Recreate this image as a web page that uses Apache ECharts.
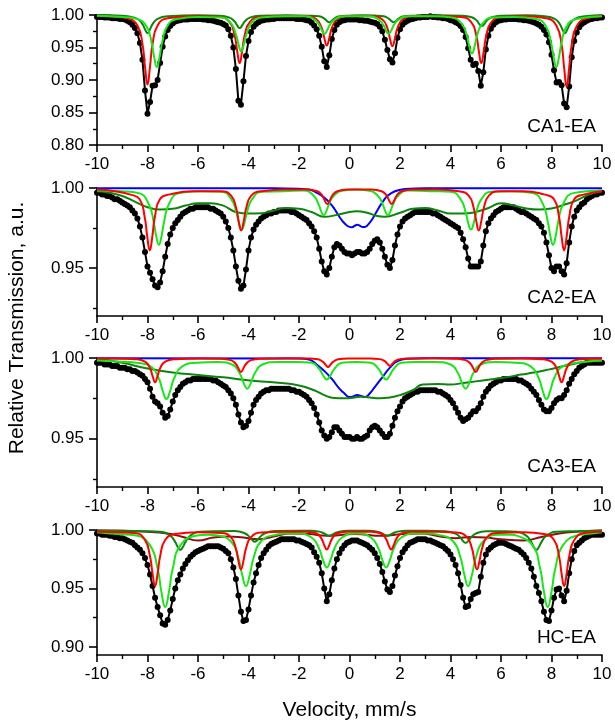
<!DOCTYPE html>
<html><head><meta charset="utf-8">
<script src="https://cdn.jsdelivr.net/npm/echarts@6/dist/echarts.min.js"></script>
<style>html,body{margin:0;padding:0;background:#fff}#c{width:615px;height:726px}</style>
</head><body><div id="c"></div>
<script>
// Velocity channels, mm/s
const velocity = [
-10,-9.9,-9.8,-9.7,-9.6,-9.5,-9.4,-9.3,-9.2,-9.1,
-9,-8.9,-8.8,-8.7,-8.6,-8.5,-8.4,-8.3,-8.2,-8.1,
-8,-7.9,-7.8,-7.7,-7.6,-7.5,-7.4,-7.3,-7.2,-7.1,
-7,-6.9,-6.8,-6.7,-6.6,-6.5,-6.4,-6.3,-6.2,-6.1,
-6,-5.9,-5.8,-5.7,-5.6,-5.5,-5.4,-5.3,-5.2,-5.1,
-5,-4.9,-4.8,-4.7,-4.6,-4.5,-4.4,-4.3,-4.2,-4.1,
-4,-3.9,-3.8,-3.7,-3.6,-3.5,-3.4,-3.3,-3.2,-3.1,
-3,-2.9,-2.8,-2.7,-2.6,-2.5,-2.4,-2.3,-2.2,-2.1,
-2,-1.9,-1.8,-1.7,-1.6,-1.5,-1.4,-1.3,-1.2,-1.1,
-1,-0.9,-0.8,-0.7,-0.6,-0.5,-0.4,-0.3,-0.2,-0.1,
0,0.1,0.2,0.3,0.4,0.5,0.6,0.7,0.8,0.9,
1,1.1,1.2,1.3,1.4,1.5,1.6,1.7,1.8,1.9,
2,2.1,2.2,2.3,2.4,2.5,2.6,2.7,2.8,2.9,
3,3.1,3.2,3.3,3.4,3.5,3.6,3.7,3.8,3.9,
4,4.1,4.2,4.3,4.4,4.5,4.6,4.7,4.8,4.9,
5,5.1,5.2,5.3,5.4,5.5,5.6,5.7,5.8,5.9,
6,6.1,6.2,6.3,6.4,6.5,6.6,6.7,6.8,6.9,
7,7.1,7.2,7.3,7.4,7.5,7.6,7.7,7.8,7.9,
8,8.1,8.2,8.3,8.4,8.5,8.6,8.7,8.8,8.9,
9,9.1,9.2,9.3,9.4,9.5,9.6,9.7,9.8,9.9,
10];

// Experimental spectra (relative transmission)
const ca1Exp = [
.997,.997,.997,.996,.996,.996,.995,.995,.995,.994,
.994,.993,.991,.989,.985,.980,.972,.957,.931,.884,
.848,.866,.891,.892,.900,.926,.951,.967,.977,.983,
.987,.990,.991,.992,.993,.993,.993,.994,.994,.994,
.994,.994,.993,.993,.992,.992,.991,.990,.989,.988,
.986,.984,.978,.968,.950,.917,.868,.862,.898,.937,
.960,.974,.982,.986,.989,.991,.992,.993,.993,.994,
.994,.995,.995,.995,.995,.995,.995,.995,.995,.994,
.994,.994,.993,.992,.991,.988,.984,.978,.968,.951,
.929,.920,.938,.963,.977,.985,.989,.991,.992,.993,
.993,.993,.993,.993,.992,.992,.991,.991,.990,.989,
.988,.986,.982,.975,.962,.946,.932,.927,.941,.965,
.978,.985,.989,.991,.993,.994,.995,.996,.996,.997,
.997,.997,.998,.997,.997,.996,.996,.995,.995,.994,
.992,.991,.989,.987,.983,.977,.966,.949,.931,.923,
.925,.914,.891,.912,.947,.968,.979,.985,.989,.991,
.992,.993,.993,.994,.994,.994,.994,.993,.993,.992,
.992,.991,.990,.989,.987,.985,.982,.977,.970,.958,
.939,.915,.896,.897,.892,.864,.858,.890,.935,.960,
.973,.981,.986,.989,.991,.993,.994,.995,.995,.996,
.996];
const ca2Exp = [
.997,.997,.996,.996,.995,.995,.994,.993,.993,.992,
.991,.990,.989,.988,.986,.984,.981,.976,.969,.960,
.951,.947,.943,.939,.938,.941,.948,.957,.965,.971,
.975,.978,.980,.982,.984,.985,.986,.987,.987,.988,
.988,.988,.988,.988,.988,.987,.987,.986,.985,.984,
.982,.979,.975,.969,.961,.951,.942,.937,.939,.949,
.961,.969,.974,.977,.979,.981,.982,.983,.984,.984,
.985,.985,.986,.986,.986,.986,.986,.985,.985,.984,
.983,.982,.981,.980,.978,.976,.973,.969,.962,.954,
.948,.946,.950,.957,.963,.965,.964,.962,.960,.959,
.959,.958,.959,.960,.960,.959,.959,.960,.962,.965,
.967,.968,.966,.962,.957,.952,.950,.955,.964,.971,
.976,.979,.981,.982,.983,.984,.985,.985,.985,.985,
.985,.985,.985,.984,.984,.983,.982,.981,.980,.979,
.978,.977,.976,.975,.972,.968,.963,.956,.951,.951,
.951,.951,.954,.964,.973,.978,.981,.983,.985,.986,
.987,.988,.988,.988,.988,.988,.987,.986,.985,.985,
.984,.983,.982,.981,.980,.978,.976,.972,.966,.958,
.950,.948,.951,.951,.948,.946,.953,.966,.976,.982,
.986,.988,.990,.991,.993,.994,.995,.996,.996,.997,
.997];
const ca3Exp = [
.997,.997,.997,.996,.996,.996,.995,.995,.995,.994,
.994,.994,.993,.993,.992,.992,.991,.990,.989,.987,
.985,.981,.976,.973,.972,.970,.966,.963,.964,.968,
.973,.977,.980,.982,.984,.985,.986,.986,.987,.987,
.987,.987,.987,.987,.987,.987,.986,.986,.985,.984,
.983,.982,.980,.978,.975,.971,.965,.960,.957,.958,
.961,.966,.971,.974,.976,.978,.979,.980,.980,.981,
.981,.981,.981,.981,.981,.981,.981,.980,.980,.979,
.979,.978,.977,.976,.974,.972,.969,.965,.960,.955,
.952,.950,.951,.954,.957,.957,.955,.953,.951,.951,
.951,.950,.950,.951,.950,.950,.951,.952,.955,.957,
.958,.957,.955,.953,.951,.951,.953,.958,.963,.967,
.970,.973,.975,.976,.977,.978,.979,.979,.980,.980,
.980,.980,.980,.980,.980,.979,.979,.978,.977,.976,
.974,.972,.969,.966,.963,.961,.962,.963,.965,.967,
.967,.969,.972,.976,.979,.981,.983,.984,.985,.986,
.986,.987,.987,.987,.987,.987,.987,.986,.986,.985,
.984,.983,.981,.979,.977,.974,.971,.968,.967,.967,
.969,.972,.974,.975,.975,.977,.980,.984,.987,.990,
.992,.994,.995,.996,.997,.997,.997,.997,.997,.997,
.997];
const hcExp = [
.997,.997,.996,.996,.996,.995,.995,.994,.994,.993,
.993,.992,.991,.990,.989,.987,.985,.983,.980,.976,
.970,.962,.952,.942,.934,.927,.920,.919,.923,.931,
.941,.950,.957,.962,.967,.971,.974,.977,.979,.981,
.982,.983,.984,.985,.986,.986,.986,.986,.986,.985,
.984,.982,.980,.975,.968,.958,.944,.930,.922,.923,
.932,.944,.955,.963,.970,.976,.980,.983,.986,.988,
.989,.990,.991,.992,.992,.992,.992,.992,.992,.991,
.991,.990,.989,.988,.987,.985,.981,.977,.972,.963,
.950,.939,.945,.957,.967,.975,.980,.984,.987,.989,
.990,.991,.991,.991,.990,.989,.988,.987,.985,.983,
.980,.976,.971,.964,.956,.949,.947,.952,.961,.969,
.976,.981,.984,.987,.989,.990,.991,.992,.992,.992,
.992,.991,.991,.990,.989,.988,.987,.986,.984,.982,
.979,.975,.970,.963,.953,.942,.934,.935,.941,.945,
.946,.947,.960,.972,.979,.983,.985,.987,.988,.989,
.989,.989,.988,.987,.986,.985,.984,.983,.981,.979,
.976,.972,.967,.960,.952,.946,.939,.930,.923,.922,
.931,.942,.949,.950,.944,.939,.948,.963,.975,.982,
.987,.989,.991,.993,.994,.995,.996,.996,.996,.996,
.996];

// Fitted sub-spectra [velocity, transmission]
const ca1Red = [[-10,0.999],[-9.2,0.997],[-8.8,0.995],[-8.4,0.984],[-8.2,0.955],[-8.1,0.921],[-8.0,0.893],[-7.9,0.921],[-7.8,0.955],[-7.6,0.984],[-7.2,0.995],[-6.2,0.998],[-5.15,0.997],[-4.75,0.989],[-4.55,0.969],[-4.45,0.945],[-4.35,0.926],[-4.25,0.945],[-4.15,0.969],[-3.95,0.989],[-3.55,0.997],[-2.6,0.998],[-1.7,0.998],[-1.3,0.993],[-1.1,0.98],[-1.0,0.965],[-0.9,0.953],[-0.8,0.965],[-0.7,0.98],[-0.5,0.993],[-0.1,0.998],[0.4,0.998],[0.9,0.998],[1.3,0.993],[1.5,0.98],[1.6,0.964],[1.7,0.952],[1.8,0.964],[1.9,0.98],[2.1,0.993],[2.5,0.998],[3.5,0.998],[4.42,0.997],[4.82,0.989],[5.02,0.969],[5.12,0.945],[5.22,0.926],[5.32,0.945],[5.42,0.969],[5.62,0.989],[6.02,0.997],[6.9,0.998],[7.8,0.995],[8.2,0.983],[8.4,0.954],[8.5,0.919],[8.6,0.890],[8.7,0.919],[8.8,0.954],[9.0,0.983],[9.4,0.995],[10,0.998]];
const ca1Green = [[-10,0.999],[-9,0.997],[-8.43,0.994],[-8.03,0.982],[-7.83,0.956],[-7.73,0.934],[-7.63,0.920],[-7.53,0.934],[-7.43,0.956],[-7.23,0.982],[-6.83,0.994],[-6,0.997],[-5.09,0.996],[-4.69,0.987],[-4.49,0.969],[-4.39,0.954],[-4.29,0.944],[-4.19,0.954],[-4.09,0.969],[-3.89,0.987],[-3.49,0.996],[-2.5,0.998],[-1.79,0.998],[-1.39,0.993],[-1.19,0.984],[-1.09,0.976],[-0.99,0.971],[-0.89,0.976],[-0.79,0.984],[-0.59,0.993],[-0.19,0.998],[0.3,0.998],[0.75,0.998],[1.15,0.993],[1.35,0.984],[1.45,0.976],[1.55,0.971],[1.65,0.976],[1.75,0.984],[1.95,0.993],[2.35,0.998],[3.3,0.998],[4.05,0.996],[4.45,0.986],[4.65,0.968],[4.75,0.951],[4.85,0.941],[4.95,0.951],[5.05,0.968],[5.25,0.986],[5.65,0.996],[6.5,0.997],[7.39,0.994],[7.79,0.982],[7.99,0.956],[8.09,0.934],[8.19,0.920],[8.29,0.934],[8.39,0.956],[8.59,0.982],[8.99,0.994],[10,0.998]];
const ca1DkGreen = [[-10,1.0],[-9,0.999],[-8.8,0.998],[-8.4,0.994],[-8.2,0.986],[-8.1,0.978],[-8.0,0.972],[-7.9,0.978],[-7.8,0.986],[-7.6,0.994],[-7.2,0.998],[-6,0.9995],[-5.15,0.999],[-4.75,0.996],[-4.55,0.99],[-4.45,0.984],[-4.35,0.98],[-4.25,0.984],[-4.15,0.99],[-3.95,0.996],[-3.55,0.999],[-2.5,0.9995],[-1.6,0.999],[-1.2,0.998],[-1.0,0.9945],[-0.9,0.991],[-0.8,0.989],[-0.7,0.991],[-0.6,0.9945],[-0.4,0.998],[0,0.999],[0.5,0.9995],[1.05,0.999],[1.35,0.998],[1.55,0.9945],[1.65,0.991],[1.75,0.989],[1.85,0.991],[1.95,0.9945],[2.15,0.998],[2.55,0.999],[3.5,0.9995],[4.44,0.999],[4.84,0.9966],[5.04,0.9915],[5.14,0.986],[5.24,0.983],[5.34,0.986],[5.44,0.9915],[5.64,0.9966],[6.04,0.999],[7,0.9995],[7.73,0.998],[8.13,0.994],[8.33,0.986],[8.43,0.978],[8.53,0.972],[8.63,0.978],[8.73,0.986],[8.93,0.994],[9.33,0.998],[10,0.9995]];

const ca2Red = [[-10,0.999],[-9.3,0.998],[-8.71,0.996],[-8.31,0.993],[-8.11,0.9817],[-8.01,0.9696],[-7.91,0.961],[-7.81,0.9696],[-7.71,0.9817],[-7.51,0.993],[-7.11,0.996],[-6.2,0.998],[-5.09,0.998],[-4.69,0.9952],[-4.49,0.9875],[-4.39,0.9793],[-4.29,0.9735],[-4.19,0.9793],[-4.09,0.9875],[-3.89,0.9952],[-3.49,0.998],[-2.5,0.999],[-1.68,0.999],[-1.28,0.998],[-1.08,0.9953],[-0.98,0.9922],[-0.88,0.990],[-0.78,0.9922],[-0.68,0.9953],[-0.48,0.998],[-0.08,0.999],[0.87,0.999],[1.27,0.998],[1.47,0.9953],[1.57,0.9922],[1.67,0.990],[1.77,0.9922],[1.87,0.9953],[2.07,0.998],[2.47,0.999],[3.5,0.999],[4.32,0.998],[4.72,0.9952],[4.92,0.9875],[5.02,0.9793],[5.12,0.9735],[5.22,0.9793],[5.32,0.9875],[5.52,0.9952],[5.92,0.998],[6.9,0.998],[7.7,0.996],[8.1,0.993],[8.3,0.9817],[8.4,0.9696],[8.5,0.961],[8.6,0.9696],[8.7,0.9817],[8.9,0.993],[9.3,0.996],[10,0.998]];
const ca2Green = [[-10,0.9985],[-9.05,0.998],[-8.35,0.9968],[-7.95,0.990],[-7.75,0.9783],[-7.65,0.9695],[-7.55,0.9645],[-7.45,0.9695],[-7.35,0.9783],[-7.15,0.990],[-6.75,0.9968],[-5.9,0.998],[-5.07,0.9977],[-4.67,0.9927],[-4.47,0.9841],[-4.37,0.9776],[-4.27,0.974],[-4.17,0.9776],[-4.07,0.9841],[-3.87,0.9927],[-3.47,0.9977],[-2.6,0.998],[-1.82,0.9985],[-1.42,0.9952],[-1.22,0.9896],[-1.12,0.9854],[-1.02,0.983],[-0.92,0.9854],[-0.82,0.9896],[-0.62,0.9952],[-0.22,0.9985],[0.25,0.999],[0.72,0.9985],[1.12,0.9952],[1.32,0.9896],[1.42,0.9854],[1.52,0.983],[1.62,0.9854],[1.72,0.9896],[1.92,0.9952],[2.32,0.9985],[3.2,0.998],[4.01,0.9977],[4.41,0.9927],[4.61,0.9841],[4.71,0.9776],[4.81,0.974],[4.91,0.9776],[5.01,0.9841],[5.21,0.9927],[5.61,0.9977],[6.4,0.998],[7.26,0.9968],[7.66,0.990],[7.86,0.9783],[7.96,0.9695],[8.06,0.9645],[8.16,0.9695],[8.26,0.9783],[8.46,0.990],[8.86,0.9968],[10,0.9985]];
const ca2DkGreen = [[-10,0.998],[-9.5,0.997],[-9,0.995],[-8.5,0.9915],[-8,0.988],[-7.5,0.9865],[-7,0.987],[-6.5,0.989],[-6,0.9905],[-5.5,0.9905],[-5,0.989],[-4.5,0.985],[-4,0.984],[-3.5,0.9842],[-3,0.986],[-2.5,0.9875],[-2,0.987],[-1.5,0.985],[-1,0.982],[-0.5,0.9832],[0,0.985],[0.3,0.9854],[0.7,0.9845],[1.1,0.9825],[1.4,0.982],[2,0.9845],[2.5,0.987],[3,0.9875],[3.5,0.986],[4,0.984],[4.5,0.984],[5,0.985],[5.5,0.9875],[6,0.9905],[6.5,0.989],[7,0.9872],[7.5,0.9865],[8,0.9872],[8.5,0.9895],[9,0.9923],[9.5,0.996],[10,0.998]];
const ca2Blue = [[-10,0.9998],[-3,0.9998],[-2,0.9995],[-1.6,0.999],[-1.3,0.997],[-1,0.994],[-0.8,0.991],[-0.6,0.987],[-0.4,0.982],[-0.2,0.978],[0,0.9757],[0.1,0.9755],[0.2,0.9763],[0.3,0.977],[0.4,0.9765],[0.5,0.9757],[0.6,0.9757],[0.7,0.9765],[0.9,0.9805],[1.1,0.986],[1.3,0.991],[1.5,0.995],[1.8,0.998],[2.2,0.9993],[3,0.9998],[10,0.9998]];

const ca3Red = [[-10,0.9998],[-9,0.9996],[-8.5,0.9993],[-8.1,0.9978],[-7.9,0.9937],[-7.8,0.9889],[-7.7,0.985],[-7.6,0.9889],[-7.5,0.9937],[-7.3,0.9978],[-6.9,0.9993],[-5.9,0.9997],[-5.1,0.9996],[-4.7,0.9987],[-4.5,0.9963],[-4.4,0.9936],[-4.3,0.9913],[-4.2,0.9936],[-4.1,0.9963],[-3.9,0.9987],[-3.5,0.9996],[-2.5,0.9998],[-1.65,0.9997],[-1.25,0.9992],[-1.05,0.9976],[-0.95,0.9959],[-0.85,0.9944],[-0.75,0.9959],[-0.65,0.9976],[-0.45,0.9992],[-0.05,0.9997],[0.4,0.9997],[0.8,0.9997],[1.2,0.9993],[1.4,0.998],[1.5,0.9964],[1.6,0.9952],[1.7,0.9964],[1.8,0.998],[2.0,0.9993],[2.4,0.9997],[3.4,0.9998],[4.2,0.9996],[4.6,0.9987],[4.8,0.9963],[4.9,0.9936],[5.0,0.9913],[5.1,0.9936],[5.2,0.9963],[5.4,0.9987],[5.8,0.9996],[6.8,0.9997],[7.6,0.9993],[8.0,0.9978],[8.2,0.9937],[8.3,0.9889],[8.4,0.985],[8.5,0.9889],[8.6,0.9937],[8.8,0.9978],[9.2,0.9993],[10,0.9997]];
const ca3Green = [[-10,0.9985],[-9.2,0.9978],[-8.45,0.997],[-7.85,0.9945],[-7.55,0.9873],[-7.4,0.9797],[-7.25,0.9746],[-7.1,0.9797],[-6.95,0.9873],[-6.65,0.9945],[-6.05,0.997],[-5.25,0.9975],[-4.65,0.996],[-4.35,0.9905],[-4.2,0.9848],[-4.05,0.981],[-3.9,0.9848],[-3.75,0.9905],[-3.45,0.996],[-2.85,0.9975],[-2.1,0.9975],[-1.5,0.997],[-1.2,0.9933],[-1.05,0.9893],[-0.9,0.9866],[-0.75,0.9893],[-0.6,0.9933],[-0.3,0.997],[0.25,0.9975],[0.85,0.997],[1.15,0.9933],[1.3,0.9893],[1.45,0.9866],[1.6,0.9893],[1.75,0.9933],[2.05,0.997],[2.65,0.9975],[3.4,0.9975],[4.0,0.996],[4.3,0.9905],[4.45,0.9848],[4.6,0.981],[4.75,0.9848],[4.9,0.9905],[5.2,0.996],[5.8,0.9975],[6.6,0.997],[7.2,0.9945],[7.5,0.9873],[7.65,0.9797],[7.8,0.9746],[7.95,0.9797],[8.1,0.9873],[8.4,0.9945],[9.0,0.997],[10,0.9985]];
const ca3DkGreen = [[-10,0.9995],[-9,0.997],[-8,0.9935],[-7,0.991],[-6,0.9895],[-5,0.988],[-4.2,0.9865],[-3.5,0.9855],[-2.7,0.9845],[-2,0.983],[-1.4,0.980],[-1,0.977],[-0.6,0.9752],[-0.2,0.975],[0.2,0.9755],[0.45,0.976],[0.8,0.9755],[1.2,0.975],[1.6,0.9755],[2,0.977],[2.5,0.980],[2.9,0.9835],[3.5,0.9838],[4,0.9835],[4.5,0.9845],[5,0.9855],[5.55,0.9866],[6.2,0.988],[6.8,0.9897],[7.3,0.991],[7.87,0.9928],[8.5,0.995],[9.1,0.997],[9.6,0.998],[10,0.9985]];
const ca3Blue = [[-10,0.9998],[-2,0.9997],[-1.6,0.999],[-1.3,0.996],[-1,0.992],[-0.7,0.987],[-0.4,0.981],[-0.2,0.978],[0,0.9758],[0.15,0.9762],[0.3,0.977],[0.45,0.9765],[0.6,0.9758],[0.8,0.978],[1.0,0.982],[1.3,0.988],[1.6,0.994],[1.9,0.998],[2.3,0.9995],[3,0.9998],[10,0.9998]];

const hcRed = [[-10,0.9985],[-9.2,0.998],[-8.5,0.9975],[-8.1,0.9914],[-7.9,0.9774],[-7.8,0.9626],[-7.7,0.952],[-7.6,0.9626],[-7.5,0.9774],[-7.3,0.9914],[-6.9,0.9965],[-6,0.998],[-5.1,0.9975],[-4.7,0.9939],[-4.5,0.9842],[-4.4,0.9737],[-4.3,0.9663],[-4.2,0.9737],[-4.1,0.9842],[-3.9,0.9939],[-3.5,0.9978],[-2.5,0.9985],[-1.7,0.9985],[-1.3,0.997],[-1.1,0.9922],[-1.0,0.987],[-0.9,0.9834],[-0.8,0.987],[-0.7,0.9922],[-0.5,0.997],[-0.1,0.9985],[0.4,0.9985],[0.85,0.9985],[1.25,0.997],[1.45,0.9922],[1.55,0.987],[1.65,0.9834],[1.75,0.987],[1.85,0.9922],[2.05,0.997],[2.45,0.9985],[3.4,0.9985],[4.25,0.9978],[4.65,0.9939],[4.85,0.9842],[4.95,0.9737],[5.05,0.9663],[5.15,0.9737],[5.25,0.9842],[5.45,0.9939],[5.85,0.9975],[6.9,0.998],[7.7,0.9965],[8.1,0.9914],[8.3,0.9774],[8.4,0.9626],[8.5,0.952],[8.6,0.9626],[8.7,0.9774],[8.9,0.9914],[9.3,0.9975],[10,0.9985]];
const hcGreen = [[-10,0.998],[-9.2,0.9965],[-8.5,0.9955],[-7.9,0.9868],[-7.6,0.967],[-7.45,0.9472],[-7.3,0.934],[-7.15,0.9472],[-7.0,0.967],[-6.7,0.9868],[-6.1,0.995],[-5.6,0.996],[-5.3,0.9955],[-4.7,0.9904],[-4.4,0.976],[-4.25,0.9616],[-4.1,0.952],[-3.95,0.9616],[-3.8,0.976],[-3.5,0.9904],[-2.9,0.996],[-2.5,0.997],[-2.1,0.997],[-1.5,0.9936],[-1.2,0.984],[-1.05,0.9744],[-0.9,0.968],[-0.75,0.9744],[-0.6,0.984],[-0.3,0.9936],[0.28,0.997],[0.85,0.9936],[1.15,0.984],[1.3,0.9744],[1.45,0.968],[1.6,0.9744],[1.75,0.984],[2.05,0.9936],[2.65,0.997],[3.1,0.997],[3.5,0.996],[4.1,0.9904],[4.4,0.976],[4.55,0.9616],[4.7,0.952],[4.85,0.9616],[5.0,0.976],[5.3,0.9904],[5.9,0.996],[6.4,0.996],[6.65,0.995],[7.25,0.9868],[7.55,0.967],[7.7,0.9472],[7.85,0.934],[8.0,0.9472],[8.15,0.967],[8.45,0.9868],[9.05,0.9955],[9.6,0.997],[10,0.998]];
const hcDkGreen = [[-10,0.9995],[-8,0.999],[-7.5,0.9985],[-7.1,0.9952],[-6.9,0.9896],[-6.8,0.9854],[-6.7,0.983],[-6.6,0.9854],[-6.5,0.9896],[-6.3,0.9952],[-5.9,0.9985],[-5.2,0.999],[-4.55,0.9991],[-4.15,0.9972],[-3.95,0.9939],[-3.85,0.9914],[-3.75,0.990],[-3.65,0.9914],[-3.55,0.9939],[-3.35,0.9972],[-2.95,0.9991],[-2,0.9994],[-1.6,0.9993],[-1.2,0.9986],[-1.0,0.997],[-0.9,0.9957],[-0.8,0.995],[-0.7,0.9957],[-0.6,0.997],[-0.4,0.9986],[0,0.9993],[0.35,0.9994],[0.7,0.9993],[1.1,0.9986],[1.3,0.997],[1.4,0.9957],[1.5,0.995],[1.6,0.9957],[1.7,0.997],[1.9,0.9986],[2.3,0.9993],[3,0.9994],[3.8,0.999],[4.2,0.9969],[4.4,0.9933],[4.5,0.9905],[4.6,0.989],[4.7,0.9905],[4.8,0.9933],[5.0,0.9969],[5.4,0.999],[6.2,0.999],[6.6,0.9985],[7.0,0.9952],[7.2,0.9896],[7.3,0.9854],[7.4,0.983],[7.5,0.9854],[7.6,0.9896],[7.8,0.9952],[8.2,0.9985],[9,0.999],[10,0.9995]];
const hcBrown = [[-10,0.9995],[-8,0.9985],[-7.2,0.997],[-6.6,0.994],[-6.0,0.991],[-5.4,0.9935],[-4.8,0.9945],[-4.2,0.9935],[-3.6,0.992],[-3.0,0.9945],[-2.3,0.997],[-1.6,0.9965],[-0.9,0.995],[0.2,0.9965],[1.3,0.995],[2.1,0.9965],[2.8,0.997],[3.6,0.9945],[4.2,0.993],[4.8,0.994],[5.4,0.9935],[6.0,0.992],[6.9,0.991],[7.6,0.994],[8.3,0.997],[9,0.9985],[10,0.9995]];

const panelNames = ['CA1-EA', 'CA2-EA', 'CA3-EA', 'HC-EA'];
const yMajorTicks = [[0.80, 0.85, 0.90, 0.95, 1.00], [0.95, 1.00], [0.95, 1.00], [0.90, 0.95, 1.00]];
const yMinorTicks = [[0.825, 0.875, 0.925, 0.975], [0.925, 0.975], [0.925, 0.975], [0.925, 0.975]];
const yMin = [0.80, 0.92, 0.92, 0.893];
const yMax = [1.0, 1.0, 1.0, 1.0];

const C = {red: '#ff0000', green: '#19e619', dkgreen: '#0d850d', blue: '#0000ff', brown: '#8b1010'};
const panels = [
  {exp: ca1Exp, fits: [[ca1DkGreen, C.dkgreen], [ca1Red, C.red], [ca1Green, C.green]]},
  {exp: ca2Exp, fits: [[ca2Blue, C.blue], [ca2DkGreen, C.dkgreen], [ca2Green, C.green], [ca2Red, C.red]]},
  {exp: ca3Exp, fits: [[ca3Blue, C.blue], [ca3DkGreen, C.dkgreen], [ca3Green, C.green], [ca3Red, C.red]]},
  {exp: hcExp, fits: [[hcBrown, C.brown], [hcDkGreen, C.dkgreen], [hcGreen, C.green], [hcRed, C.red]]}
];

const FONT = '"Liberation Sans", Arial, Helvetica, sans-serif';
const gridBoxes = [
  {top: 15, height: 130},
  {top: 188, height: 128},
  {top: 358, height: 129},
  {top: 530, height: 125}
];

const chart = echarts.init(document.getElementById('c'), null, {renderer: 'canvas'});
const grid = [], xAxis = [], yAxis = [], series = [];
gridBoxes.forEach((g, i) => {
  grid.push({left: 97, right: 13, top: g.top, height: g.height, containLabel: false});
  xAxis.push({
    type: 'value', gridIndex: i, min: -10, max: 10, interval: 2, position: 'bottom',
    axisLine: {show: true, onZero: false, lineStyle: {color: '#000', width: 1.6}},
    axisTick: {show: true, length: 7, lineStyle: {color: '#000', width: 1.6}},
    minorTick: {show: true, splitNumber: 2, length: 4, lineStyle: {color: '#000', width: 1.4}},
    axisLabel: {color: '#000', fontSize: 17, fontFamily: FONT, margin: 11},
    splitLine: {show: false}, minorSplitLine: {show: false},
    name: i === 3 ? 'Velocity, mm/s' : '',
    nameLocation: 'middle', nameGap: 45,
    nameTextStyle: {color: '#000', fontSize: 21, fontFamily: FONT}
  });
  yAxis.push({
    type: 'value', gridIndex: i, min: yMin[i], max: yMax[i], position: 'left', offset: 0,
    axisLine: {show: true, onZero: false, lineStyle: {color: '#000', width: 1.6}},
    axisTick: {show: true, length: 8, customValues: yMajorTicks[i], lineStyle: {color: '#000', width: 1.6}},
    axisLabel: {color: '#000', fontSize: 17, fontFamily: FONT, margin: 13, customValues: yMajorTicks[i],
      formatter: v => v.toFixed(2)},
    splitLine: {show: false}
  });
  yAxis.push({
    type: 'value', gridIndex: i, min: yMin[i], max: yMax[i], position: 'left', offset: 0,
    axisLine: {show: false, onZero: false},
    axisTick: {show: true, length: 4, customValues: yMinorTicks[i], lineStyle: {color: '#000', width: 1.4}},
    axisLabel: {show: false},
    splitLine: {show: false}
  });
  const p = panels[i];
  series.push({
    type: 'line', xAxisIndex: i, yAxisIndex: 2 * i, z: 2,
    data: velocity.map((v, k) => [v, p.exp[k]]),
    symbol: 'circle', symbolSize: 6, showSymbol: true,
    itemStyle: {color: '#000'}, lineStyle: {color: '#000', width: 2},
    clip: false, silent: true, animation: false
  });
  p.fits.forEach(([d, col]) => {
    series.push({
      type: 'line', xAxisIndex: i, yAxisIndex: 2 * i, z: 3,
      data: d, smooth: 0.5, showSymbol: false, symbol: 'none',
      lineStyle: {color: col, width: 2}, clip: false, silent: true, animation: false
    });
  });
});

const labelY = [127, 298, 467, 638];
const graphic = panelNames.map((t, i) => ({
  type: 'text', x: 596, y: labelY[i], z: 10,
  style: {text: t, fill: '#000', font: '19px ' + FONT, align: 'right', verticalAlign: 'middle'}
}));
graphic.push({
  type: 'text', x: 17, y: 328, rotation: Math.PI / 2, z: 10,
  style: {text: 'Relative Transmission, a.u.', fill: '#000', font: '21px ' + FONT, align: 'center', verticalAlign: 'middle'}
});

chart.setOption({
  animation: false, backgroundColor: '#fff',
  grid, xAxis, yAxis, series, graphic
});
</script>
</body></html>
